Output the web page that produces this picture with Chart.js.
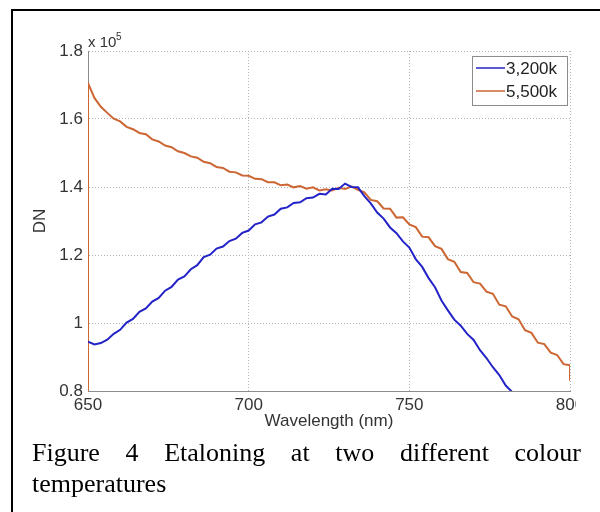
<!DOCTYPE html>
<html>
<head>
<meta charset="utf-8">
<script src="https://cdn.jsdelivr.net/npm/chart.js@4"></script>
<style>
  body { margin: 0; width: 600px; height: 512px; background: #fff; position: relative; overflow: hidden; }
  #frame { position: absolute; left: 11px; top: 9px; width: 600px; height: 520px; border-left: 2px solid #000; border-top: 2px solid #000; }
  #plot { position: absolute; left: 0; top: 0; width: 576px; height: 440px; overflow: hidden; }
  #caption { position: absolute; left: 32px; top: 437px; width: 549px; font: 26px/31px "Liberation Serif", "Times New Roman", serif; text-align: justify; color: #000; }
</style>
</head>
<body>
<div id="frame"></div>
<div id="plot"><canvas id="myChart" width="600" height="440"></canvas></div>
<div id="caption">Figure 4 Etaloning at two different colour temperatures</div>
<script>
// wavelength (nm), 2 nm steps
const wavelength = [650, 652, 654, 656, 658, 660, 662, 664, 666, 668, 670, 672, 674, 676, 678, 680, 682, 684, 686, 688,
  690, 692, 694, 696, 698, 700, 702, 704, 706, 708, 710, 712, 714, 716, 718, 720, 722, 724, 726, 728,
  730, 732, 734, 736, 738, 740, 742, 744, 746, 748, 750, 752, 754, 756, 758, 760, 762, 764, 766, 768,
  770, 772, 774, 776, 778, 780, 782, 784, 786, 788, 790, 792, 794, 796, 798, 800];

// DN in units of 1e5
const dn3200 = [0.945, 0.937, 0.941, 0.951, 0.968, 0.980, 1.001, 1.012, 1.033, 1.043, 1.063, 1.074, 1.095, 1.106, 1.128, 1.137, 1.158, 1.170, 1.194, 1.201,
  1.219, 1.225, 1.241, 1.248, 1.265, 1.272, 1.290, 1.296, 1.313, 1.319, 1.336, 1.340, 1.353, 1.355, 1.367, 1.369, 1.380, 1.378, 1.395, 1.394,
  1.410, 1.400, 1.399, 1.373, 1.352, 1.325, 1.307, 1.281, 1.264, 1.240, 1.222, 1.188, 1.165, 1.132, 1.105, 1.066, 1.037, 1.010, 0.992, 0.968,
  0.950, 0.920, 0.897, 0.870, 0.847, 0.816, 0.797, 0.770];

const dn5500 = [1.705, 1.662, 1.636, 1.618, 1.601, 1.593, 1.577, 1.570, 1.559, 1.555, 1.540, 1.534, 1.522, 1.517, 1.505, 1.500, 1.490, 1.486, 1.474, 1.470,
  1.459, 1.456, 1.445, 1.443, 1.434, 1.433, 1.424, 1.423, 1.414, 1.414, 1.405, 1.407, 1.399, 1.403, 1.395, 1.399, 1.390, 1.393, 1.390, 1.398,
  1.394, 1.401, 1.392, 1.384, 1.362, 1.358, 1.337, 1.336, 1.310, 1.311, 1.290, 1.282, 1.254, 1.252, 1.226, 1.218, 1.188, 1.180, 1.150, 1.147,
  1.120, 1.116, 1.092, 1.086, 1.054, 1.049, 1.019, 1.011, 0.979, 0.971, 0.942, 0.938, 0.913, 0.906, 0.879, 0.876];

// the 5,500k trace starts and ends with a vertical drop at the edges
const edgeStart5500 = { x: 650, y: 0.79 };
const edgeEnd5500 = { x: 800, y: 0.83 };

const seriesLabels = ['3,200k', '5,500k'];
const seriesColors = ['#2323c8', '#cc6633'];
const xTicks = [650, 700, 750, 800];
const yTicks = [0.8, 1.0, 1.2, 1.4, 1.6, 1.8];

const FONT = "'Liberation Sans', Arial, sans-serif";

const pts3200 = dn3200.map((v, i) => ({ x: wavelength[i], y: v }));
const pts5500 = [edgeStart5500].concat(dn5500.map((v, i) => ({ x: wavelength[i], y: v })), [edgeEnd5500]);

// MATLAB-like legend box and the "x 10^5" exponent
const extras = {
  id: 'extras',
  afterDraw(chart) {
    const c = chart.ctx;
    const a = chart.chartArea;
    c.save();
    // exponent
    c.fillStyle = '#333';
    c.textBaseline = 'alphabetic';
    c.textAlign = 'left';
    c.font = '15px ' + FONT;
    c.fillText('x 10', a.left, a.top - 4);
    c.font = '10px ' + FONT;
    c.fillText('5', a.left + 28, a.top - 11);

    // legend
    const bx = a.right - 98, by = a.top + 5, bw = 95, bh = 49;
    c.fillStyle = '#fff';
    c.fillRect(bx, by, bw, bh);
    c.strokeStyle = '#8c8c8c';
    c.lineWidth = 1;
    c.strokeRect(bx + 0.5, by + 0.5, bw, bh);
    c.font = '17px ' + FONT;
    c.textBaseline = 'middle';
    seriesLabels.forEach((lab, i) => {
      const y = by + 12 + i * 23;
      c.strokeStyle = seriesColors[i];
      c.lineWidth = 1.5;
      c.beginPath();
      c.moveTo(bx + 4, y);
      c.lineTo(bx + 33, y);
      c.stroke();
      c.fillStyle = '#222';
      c.fillText(lab, bx + 34, y + 1);
    });
    c.restore();
  }
};

const ctx = document.getElementById('myChart').getContext('2d');

const myChart = new Chart(ctx, {
  type: 'line',
  data: {
    datasets: [{
      label: seriesLabels[0],
      data: pts3200,
      borderColor: seriesColors[0],
      borderWidth: 2,
      pointRadius: 0,
      tension: 0
    }, {
      label: seriesLabels[1],
      data: pts5500,
      borderColor: seriesColors[1],
      borderWidth: 2,
      pointRadius: 0,
      tension: 0
    }]
  },
  options: {
    responsive: false,
    animation: false,
    layout: { padding: { left: 0, top: 51, right: 30, bottom: 0 } },
    plugins: {
      legend: { display: false },
      tooltip: { enabled: false }
    },
    scales: {
      x: {
        type: 'linear',
        min: 650,
        max: 800,
        afterBuildTicks: s => { s.ticks = xTicks.map(v => ({ value: v })); },
        afterFit: s => { s.height = 49; },
        ticks: {
          color: '#333',
          padding: 4,
          maxRotation: 0,
          font: { size: 17, family: FONT },
          callback: v => String(v)
        },
        grid: { color: '#b4b4b4', drawTicks: false },
        border: { color: '#8c8c8c', width: 1, dash: [1, 2] },
        title: {
          display: true,
          text: 'Wavelength (nm)',
          color: '#333',
          font: { size: 17, family: FONT },
          padding: { top: 0, bottom: 8 }
        }
      },
      y: {
        min: 0.8,
        max: 1.8,
        afterBuildTicks: s => { s.ticks = yTicks.map(v => ({ value: v })); },
        afterFit: s => { s.width = 88; },
        ticks: {
          color: '#333',
          padding: 5,
          font: { size: 17, family: FONT },
          callback: v => {
            const r = Math.round(v * 10) / 10;
            return r === 1 ? '1' : r.toFixed(1);
          }
        },
        grid: { color: '#b4b4b4', drawTicks: false },
        border: { color: '#8c8c8c', width: 1, dash: [1, 2] },
        title: {
          display: true,
          text: 'DN',
          color: '#333',
          font: { size: 17, family: FONT },
          padding: { top: 30, bottom: 0 }
        }
      }
    }
  },
  plugins: [extras]
});
</script>
</body>
</html>
